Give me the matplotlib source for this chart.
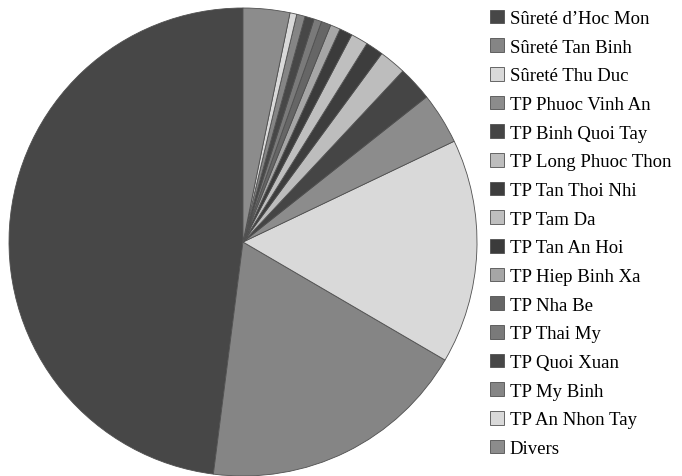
import matplotlib
matplotlib.use("Agg")
import matplotlib.pyplot as plt

# categories (legend order, drawn counter-clockwise from 12 o'clock)
labels = ["Sûreté d\u2019Hoc Mon", "Sûreté Tan Binh", "Sûreté Thu Duc",
          "TP Phuoc Vinh An", "TP Binh Quoi Tay", "TP Long Phuoc Thon",
          "TP Tan Thoi Nhi", "TP Tam Da", "TP Tan An Hoi", "TP Hiep Binh Xa",
          "TP Nha Be", "TP Thai My", "TP Quoi Xuan", "TP My Binh",
          "TP An Nhon Tay", "Divers"]
# shares in percent
shares = [47.97, 18.6, 15.5, 3.56, 2.39, 1.86, 1.22, 1.19, 0.89, 0.69,
          0.67, 0.53, 0.64, 0.58, 0.47, 3.22]
colors = ["#474747", "#858585", "#d9d9d9", "#8c8c8c", "#454545", "#bdbdbd",
          "#3d3d3d", "#bfbfbf", "#3b3b3b", "#a6a6a6", "#666666", "#7a7a7a",
          "#474747", "#858585", "#d9d9d9", "#8c8c8c"]

plt.rcParams['font.family'] = ['Liberation Serif', 'DejaVu Serif']

fig = plt.figure(figsize=(6.82, 4.77), dpi=100)
ax = fig.add_axes([9/682, 0, 468/682, 468/477])
wedges, _ = ax.pie(shares, colors=colors, startangle=90, counterclock=True,
                   radius=1.0,
                   wedgeprops=dict(edgecolor="#505050", linewidth=0.6))
ax.set_xlim(-1.0, 1.0)
ax.set_ylim(-1.0, 1.0)
ax.set_aspect("equal")
ax.axis("off")

fig.legend(wedges, labels, loc="upper left", bbox_to_anchor=(477/682, 1.005),
           frameon=False, fontsize=13.5, handlelength=0.75, handleheight=0.75,
           handletextpad=0.3, labelspacing=0.6, borderaxespad=0.3)

fig.savefig("out.png", dpi=100)
plt.close(fig)
